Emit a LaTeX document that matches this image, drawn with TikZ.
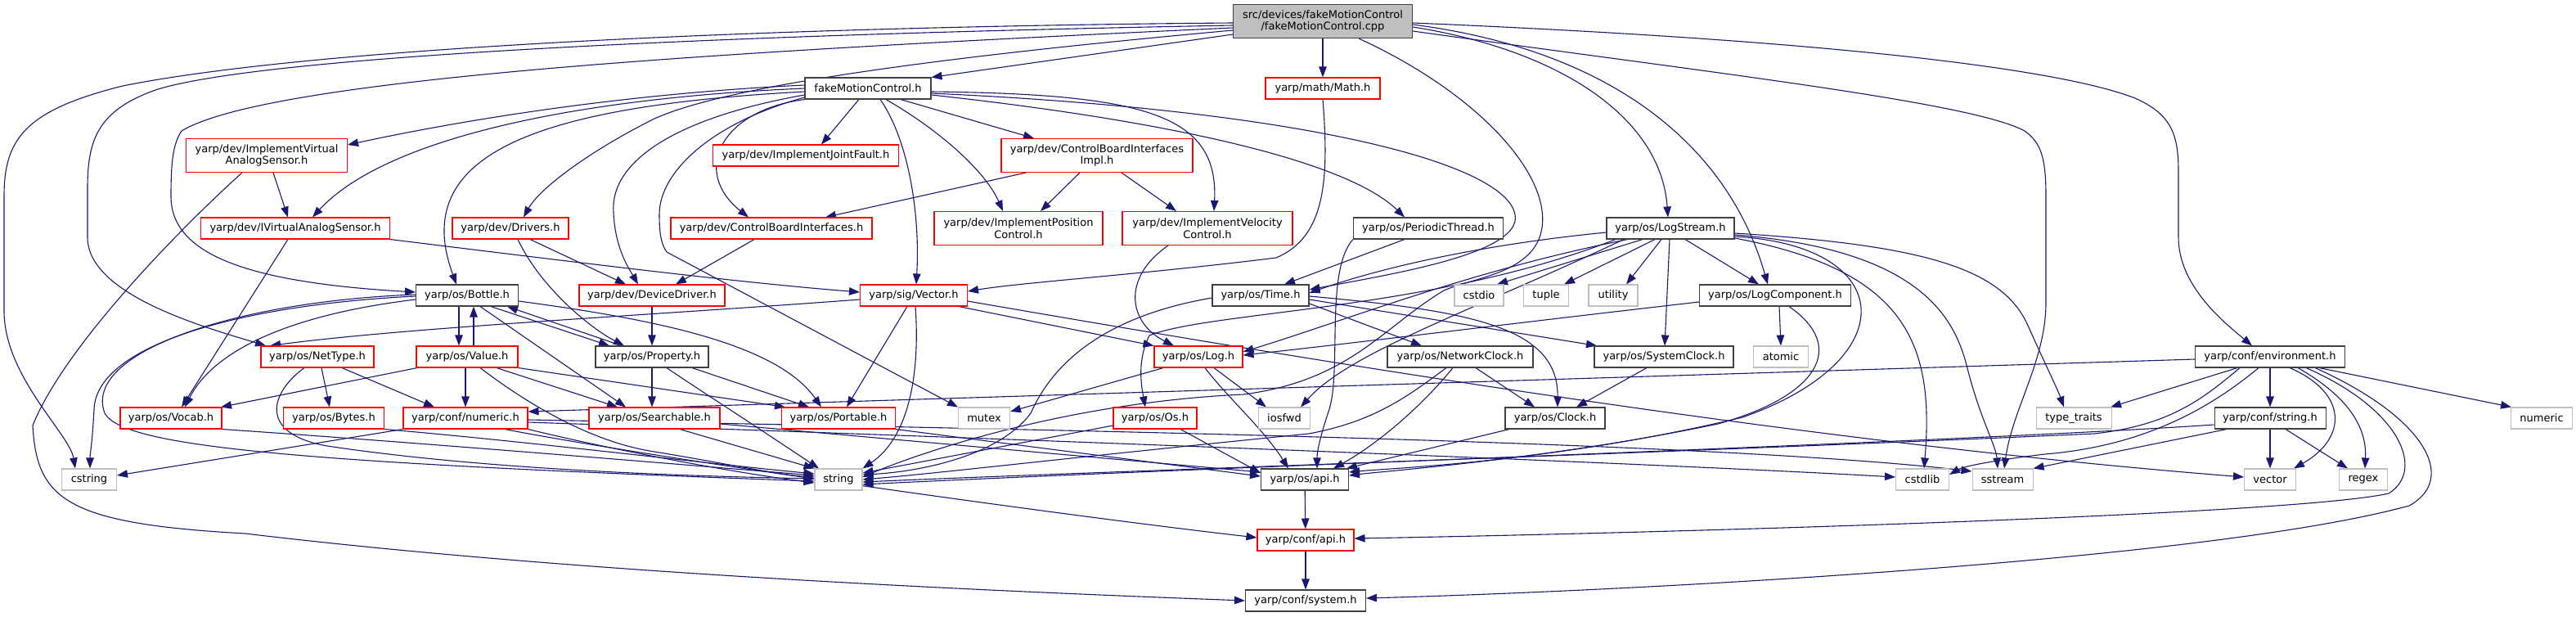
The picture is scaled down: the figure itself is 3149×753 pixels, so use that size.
\documentclass[tikz,border=0pt]{standalone}
\usepackage{fontspec}
\setmainfont{DejaVu Sans}
\usetikzlibrary{arrows.meta,backgrounds}
\definecolor{edgec}{HTML}{191970}
\definecolor{redb}{HTML}{FF0000}
\definecolor{blkb}{HTML}{404040}
\definecolor{grayb}{HTML}{BFBFBF}
\definecolor{rootf}{HTML}{BFBFBF}
\tikzset{
  box/.style={rectangle, inner sep=0pt, minimum height=26pt, align=center, font=\fontsize{13}{14.5}\selectfont, line width=1.05pt, fill=white},
  rbox/.style={box, draw=redb},
  bbox/.style={box, draw=blkb},
  gbox/.style={box, draw=grayb},
  two/.style={minimum height=41pt},
  dep/.style={color=edgec, line width=1.1pt, -{Triangle[length=13pt,width=9.5pt]}},
}
\begin{document}
\begin{tikzpicture}[x=1pt,y=-1pt]
\useasboundingbox (0,0) rectangle (3149,753);
% ---------- nodes
\node[box, draw=blkb, fill=rootf, minimum width=219pt, two] (root) at (1617,26) {src/devices/fakeMotionControl\\/fakeMotionControl.cpp};
\node[bbox, minimum width=154pt] (fmc) at (1061,108) {fakeMotionControl.h};
\node[rbox, minimum width=140pt] (math) at (1617,108) {yarp/math/Math.h};
\node[rbox, minimum width=197pt, two] (ivasi) at (326,190) {yarp/dev/ImplementVirtual\\AnalogSensor.h};
\node[rbox, minimum width=227pt] (jf) at (985,190) {yarp/dev/ImplementJointFault.h};
\node[rbox, minimum width=234pt, two] (cbii) at (1341,190) {yarp/dev/ControlBoardInterfaces\\Impl.h};
\node[rbox, minimum width=231pt] (ivas) at (361,279) {yarp/dev/IVirtualAnalogSensor.h};
\node[rbox, minimum width=142pt] (drv) at (624,279) {yarp/dev/Drivers.h};
\node[rbox, minimum width=246pt] (cbi) at (943,279) {yarp/dev/ControlBoardInterfaces.h};
\node[rbox, minimum width=206pt, two] (pos) at (1245,279) {yarp/dev/ImplementPosition\\Control.h};
\node[rbox, minimum width=208pt, two] (vel) at (1476,279) {yarp/dev/ImplementVelocity\\Control.h};
\node[bbox, minimum width=183pt] (pt) at (1746,279) {yarp/os/PeriodicThread.h};
\node[bbox, minimum width=156pt] (ls) at (2042,279) {yarp/os/LogStream.h};
\node[bbox, minimum width=125pt] (bottle) at (571,361) {yarp/os/Bottle.h};
\node[rbox, minimum width=178pt] (dd) at (797,361) {yarp/dev/DeviceDriver.h};
\node[rbox, minimum width=131pt] (vec) at (1117,361) {yarp/sig/Vector.h};
\node[bbox, minimum width=118pt] (time) at (1541,361) {yarp/os/Time.h};
\node[gbox, minimum width=60pt] (cstdio) at (1808,361) {cstdio};
\node[gbox, minimum width=55pt] (tuple) at (1890,361) {tuple};
\node[gbox, minimum width=60pt] (utility) at (1972,361) {utility};
\node[bbox, minimum width=185pt] (lc) at (2170,361) {yarp/os/LogComponent.h};
\node[rbox, minimum width=138pt] (nettype) at (388,436) {yarp/os/NetType.h};
\node[rbox, minimum width=124pt] (value) at (571,436) {yarp/os/Value.h};
\node[bbox, minimum width=138pt] (prop) at (797,436) {yarp/os/Property.h};
\node[rbox, minimum width=108pt] (log) at (1465,436) {yarp/os/Log.h};
\node[bbox, minimum width=178pt] (nc) at (1785,436) {yarp/os/NetworkClock.h};
\node[bbox, minimum width=170pt] (sc) at (2034,436) {yarp/os/SystemClock.h};
\node[gbox, minimum width=67pt] (atomic) at (2177,436) {atomic};
\node[bbox, minimum width=183pt] (env) at (2775,436) {yarp/conf/environment.h};
\node[rbox, minimum width=124pt] (vocab) at (209,511) {yarp/os/Vocab.h};
\node[rbox, minimum width=123pt] (bytes) at (408,511) {yarp/os/Bytes.h};
\node[rbox, minimum width=152pt] (cnum) at (569,511) {yarp/conf/numeric.h};
\node[rbox, minimum width=160pt] (search) at (800,511) {yarp/os/Searchable.h};
\node[rbox, minimum width=139pt] (portable) at (1025,511) {yarp/os/Portable.h};
\node[gbox, minimum width=63pt] (mutex) at (1203,511) {mutex};
\node[rbox, minimum width=102pt] (os) at (1412,511) {yarp/os/Os.h};
\node[gbox, minimum width=63pt] (iosfwd) at (1570,511) {iosfwd};
\node[bbox, minimum width=122pt] (clock) at (1901,511) {yarp/os/Clock.h};
\node[gbox, minimum width=92pt] (tt) at (2535,511) {type\_traits};
\node[bbox, minimum width=136pt] (cstr) at (2775,511) {yarp/conf/string.h};
\node[gbox, minimum width=75pt] (numeric) at (3107,511) {numeric};
\node[gbox, minimum width=67pt] (cstring) at (109,586) {cstring};
\node[gbox, minimum width=58pt] (string) at (1025,586) {string};
\node[bbox, minimum width=107pt] (api) at (1595,586) {yarp/os/api.h};
\node[gbox, minimum width=65pt] (cstdlib) at (2350,586) {cstdlib};
\node[gbox, minimum width=74pt] (sstream) at (2448,586) {sstream};
\node[gbox, minimum width=63pt] (vector) at (2775,586) {vector};
\node[gbox, minimum width=59pt] (regex) at (2889,586) {regex};
\node[rbox, minimum width=118pt] (capi) at (1596,660) {yarp/conf/api.h};
\node[bbox, minimum width=147pt] (sys) at (1596,734) {yarp/conf/system.h};
% ---------- edges
\begin{pgfonlayer}{background}
% root
\draw[dep] (root.west |- 0,28) .. controls (1000,32) and (400,55) .. (150,105) .. controls (30,135) and (5,170) .. (5,240) -- (5,380) .. controls (5,460) and (85,530) .. (cstring.north -| 92,0);
\draw[dep] (root.west |- 0,31) .. controls (900,42) and (320,68) .. (190,110) .. controls (120,135) and (107,170) .. (107,230) -- (107,290) .. controls (107,360) and (250,400) .. (nettype.north -| 325,0);
\draw[dep] (root.west |- 0,34) .. controls (900,62) and (330,95) .. (222,160) .. controls (212,175) and (209,195) .. (209,240) .. controls (209,310) and (300,345) .. (bottle.west |- 0,357);
\draw[dep] (root.west |- 0,37) .. controls (1200,65) and (900,100) .. (800,145) .. controls (720,185) and (660,230) .. (drv.north -| 640,0);
\draw[dep] (root.west |- 0,42) -- (fmc.north east);
\draw[dep] (root) -- (math);
\draw[dep] (root.east |- 0,33) .. controls (1900,60) and (2030,140) .. (ls.north -| 2039,0);
\draw[dep] (root.east |- 0,30) .. controls (1960,60) and (2110,170) .. (lc.north -| 2161,0);
\draw[dep] (root.east |- 0,28) .. controls (2250,50) and (2520,85) .. (2610,120) .. controls (2655,140) and (2663,165) .. (2663,210) -- (2663,290) .. controls (2663,350) and (2720,395) .. (env.north -| 2753,0);
\draw[dep] (root.east |- 0,38) .. controls (2100,90) and (2410,125) .. (2475,160) .. controls (2496,175) and (2501,195) .. (2501,240) -- (2501,370) .. controls (2501,440) and (2460,500) .. (sstream.north -| 2450,0);
\draw[dep] (root.south -| 1661,0) .. controls (1820,120) and (1910,230) .. (1880,295) .. controls (1860,335) and (1800,340) .. (1765,355) .. controls (1690,400) and (1650,465) .. (1520,482) .. controls (1300,492) and (1120,555) .. (string.east |- 0,583);
% fakeMotionControl.h
\draw[dep] (fmc.west |- 0,104) .. controls (750,115) and (550,150) .. (ivasi.east |- 0,177);
\draw[dep] (fmc.west |- 0,108) .. controls (700,120) and (470,170) .. (ivas.north -| 382,0);
\draw[dep] (fmc.west |- 0,112) .. controls (650,130) and (500,190) .. (bottle.north -| 558,0);
\draw[dep] (fmc.west |- 0,116) .. controls (820,145) and (745,200) .. (750,260) .. controls (752,305) and (770,330) .. (dd.north -| 780,0);
\draw[dep] (fmc.south west) .. controls (880,135) and (845,210) .. (cbi.north -| 915,0);
\draw[dep] (fmc.west |- 0,119) .. controls (870,150) and (806,210) .. (806,262) .. controls (806,285) and (808,298) .. (815,308) -- (mutex.north west);
\draw[dep] (fmc.south -| 1050,0) -- (jf.north -| 1004,0);
\draw[dep] (fmc.south -| 1101,0) -- (cbii.north -| 1264,0);
\draw[dep] (fmc.south -| 1076,0) .. controls (1110,170) and (1125,260) .. (vec.north -| 1120,0);
\draw[dep] (fmc.south -| 1083,0) .. controls (1150,160) and (1205,210) .. (pos.north -| 1226,0);
\draw[dep] (fmc.east |- 0,112) .. controls (1400,115) and (1490,140) .. (vel.north -| 1484,0);
\draw[dep] (fmc.east |- 0,116) .. controls (1450,150) and (1650,200) .. (pt.north -| 1717,0);
\draw[dep] (fmc.east |- 0,114) .. controls (1600,135) and (1840,200) .. (1852,262) .. controls (1862,310) and (1700,335) .. (time.east |- 0,354);
% math
\draw[dep] (math.south) .. controls (1625,220) and (1620,290) .. (1560,315) .. controls (1400,335) and (1250,345) .. (vec.east |- 0,356);
% ImplementVirtualAnalogSensor
\draw[dep] (ivasi.south -| 334,0) -- (ivas.north -| 352,0);
\draw[dep] (ivasi.south -| 296,0) .. controls (230,270) and (80,420) .. (40,520) .. controls (45,610) and (80,640) .. (300,652) .. controls (700,700) and (1200,722) .. (sys.west);
% IVirtualAnalogSensor
\draw[dep] (ivas.south -| 352,0) -- (vocab.north -| 222,0);
\draw[dep] (ivas.south east) .. controls (700,320) and (900,345) .. (vec.west |- 0,357);
% Drivers, CBI, CBIImpl, Velocity
\draw[dep] (drv.south -| 648,0) -- (dd.north -| 765,0);
\draw[dep] (drv.south -| 633,0) .. controls (660,350) and (720,400) .. (prop.north -| 763,0);
\draw[dep] (cbi.south -| 922,0) -- (dd.north -| 826,0);
\draw[dep] (cbii.south -| 1254,0) -- (cbi.north -| 1009,0);
\draw[dep] (cbii.south -| 1320,0) -- (pos.north -| 1272,0);
\draw[dep] (cbii.south -| 1371,0) -- (vel.north -| 1438,0);
\draw[dep] (vel.south -| 1428,0) .. controls (1370,340) and (1380,395) .. (log.north -| 1435,0);
% PeriodicThread
\draw[dep] (pt.south -| 1717,0) -- (time.north -| 1570,0);
\draw[dep] (pt.south west) .. controls (1620,330) and (1640,450) .. (1625,500) .. controls (1615,530) and (1610,550) .. (api.north -| 1610,0);
% LogStream
\draw[dep] (ls.west |- 0,284) .. controls (1800,300) and (1680,330) .. (time.east |- 0,358);
\draw[dep] (ls.south -| 1990,0) .. controls (1800,330) and (1650,390) .. (log.east |- 0,430);
\draw[dep] (ls.south -| 1975,0) .. controls (1750,380) and (1480,380) .. (1405,410) .. controls (1390,440) and (1395,470) .. (os.north -| 1400,0);
\draw[dep] (ls.south -| 1985,0) .. controls (1800,380) and (1650,430) .. (iosfwd.north -| 1590,0);
\draw[dep] (ls.south -| 2008,0) -- (cstdio.north -| 1830,0);
\draw[dep] (ls.south -| 2023,0) -- (tuple.north -| 1912,0);
\draw[dep] (ls.south -| 2031,0) -- (utility.north -| 1988,0);
\draw[dep] (ls.south -| 2041,0) -- (sc.north -| 2035,0);
\draw[dep] (ls.south -| 2060,0) -- (lc.north -| 2150,0);
\draw[dep] (ls.east |- 0,289) .. controls (2320,300) and (2330,440) .. (2130,510) .. controls (1900,565) and (1700,572) .. (api.east |- 0,577);
\draw[dep] (ls.east |- 0,291) .. controls (2330,330) and (2365,420) .. (cstdlib.north -| 2352,0);
\draw[dep] (ls.east |- 0,287) .. controls (2350,305) and (2390,390) .. (2405,450) .. controls (2420,510) and (2440,545) .. (sstream.north -| 2442,0);
\draw[dep] (ls.east |- 0,285) .. controls (2360,300) and (2450,330) .. (2480,400) .. controls (2500,445) and (2515,475) .. (tt.north -| 2523,0);
% LogComponent
\draw[dep] (lc.west |- 0,369) .. controls (1850,395) and (1650,420) .. (log.east |- 0,434);
\draw[dep] (lc.south -| 2175,0) -- (atomic.north);
\draw[dep] (lc.south -| 2187,0) .. controls (2260,425) and (2220,485) .. (2100,518) .. controls (1900,560) and (1700,575) .. (api.east |- 0,581);
% Time
\draw[dep] (time.east |- 0,371) -- (nc.north -| 1738,0);
\draw[dep] (time.east |- 0,366) -- (sc.north -| 1952,0);
\draw[dep] (time.east |- 0,362) .. controls (1800,380) and (1905,400) .. (clock.north -| 1904,0);
\draw[dep] (time.west |- 0,364) .. controls (1330,390) and (1280,460) .. (1260,505) .. controls (1215,565) and (1100,578) .. (string.east |- 0,580);
% NetworkClock, SystemClock, Clock
\draw[dep] (nc.south -| 1804,0) -- (clock.north -| 1876,0);
\draw[dep] (nc.south -| 1768,0) .. controls (1720,485) and (1680,515) .. (1600,530) .. controls (1300,560) and (1150,578) .. (string.east |- 0,586);
\draw[dep] (nc.south -| 1776,0) .. controls (1735,500) and (1680,545) .. (api.north -| 1630,0);
\draw[dep] (sc.south -| 2013,0) -- (clock.north -| 1927,0);
\draw[dep] (clock.south -| 1845,0) -- (api.north -| 1646,0);
% Log, Os
\draw[dep] (log.south -| 1422,0) -- (mutex.east |- 0,503);
\draw[dep] (log.south -| 1484,0) -- (iosfwd.north -| 1548,0);
\draw[dep] (log.south -| 1473,0) .. controls (1500,485) and (1545,525) .. (api.north -| 1575,0);
\draw[dep] (os.west |- 0,520) -- (string.east |- 0,578);
\draw[dep] (os.south -| 1443,0) -- (api.west |- 0,578);
% Vector
\draw[dep] (vec.south -| 1109,0) -- (portable.north -| 1035,0);
\draw[dep] (vec.south -| 1119,0) .. controls (1125,460) and (1110,535) .. (string.north east);
\draw[dep] (vec.south -| 1172,0) -- (log.north west);
\draw[dep] (vec.west |- 0,366) .. controls (800,385) and (500,400) .. (nettype.north -| 330,0);
\draw[dep] (vec.east |- 0,368) .. controls (1600,440) and (2200,540) .. (vector.west |- 0,583);
% Bottle
\draw[dep] (bottle.south -| 561,0) -- (value.north -| 561,0);
\draw[dep] (value.north -| 579,0) -- (bottle.south -| 579,0);
\draw[dep] (bottle.south -| 600,0) -- (prop.north -| 745,0);
\draw[dep] (prop.north -| 760,0) -- (bottle.south -| 620,0);
\draw[dep] (bottle.south -| 587,0) -- (search.north -| 765,0);
\draw[dep] (bottle.east |- 0,368) .. controls (800,390) and (950,420) .. (portable.north -| 1004,0);
\draw[dep] (bottle.west |- 0,366) .. controls (350,385) and (260,430) .. (vocab.north -| 226,0);
\draw[dep] (bottle.west |- 0,362) .. controls (300,372) and (118,420) .. (115,500) .. controls (113,540) and (110,555) .. (cstring.north -| 110,0);
\draw[dep] (bottle.west |- 0,360) .. controls (290,368) and (100,430) .. (128,505) .. controls (150,545) and (350,565) .. (string.west |- 0,588);
% Value
\draw[dep] (value.south -| 510,0) -- (vocab.north -| 270,0);
\draw[dep] (value.south -| 569,0) -- (cnum.north -| 569,0);
\draw[dep] (value.south -| 607,0) -- (search.north -| 755,0);
\draw[dep] (value.south east) -- (portable.north -| 960,0);
\draw[dep] (value.south -| 587,0) .. controls (640,490) and (720,540) .. (800,552) .. controls (880,565) and (950,580) .. (string.west |- 0,583);
% Property, DeviceDriver
\draw[dep] (prop.south -| 797,0) -- (search.north -| 797,0);
\draw[dep] (prop.south -| 846,0) -- (portable.north -| 989,0);
\draw[dep] (prop.south -| 815,0) .. controls (860,480) and (900,505) .. (string.north -| 1001,0);
\draw[dep] (dd.south) -- (prop.north);
% NetType
\draw[dep] (nettype.south -| 393,0) -- (bytes.north -| 403,0);
\draw[dep] (nettype.south -| 418,0) -- (cnum.north -| 531,0);
\draw[dep] (nettype.south -| 372,0) .. controls (330,480) and (315,530) .. (400,545) .. controls (600,575) and (850,582) .. (string.west |- 0,585);
% Vocab, Bytes, numeric
\draw[dep] (vocab.south east) .. controls (500,540) and (800,565) .. (string.west |- 0,581);
\draw[dep] (bytes.south east) .. controls (650,540) and (850,565) .. (string.west |- 0,579);
\draw[dep] (cnum.south west) -- (cstring.east |- 0,581);
\draw[dep] (cnum.south east) .. controls (750,550) and (900,578) .. (string.west |- 0,590);
\draw[dep] (cnum.south -| 617,0) .. controls (800,560) and (1300,630) .. (capi.west |- 0,657);
\draw[dep] (cnum.east |- 0,516) .. controls (1200,535) and (2000,565) .. (cstdlib.west |- 0,583);
\draw[dep] (cnum.east |- 0,513) .. controls (1300,525) and (2100,540) .. (sstream.west |- 0,576);
% Searchable, Portable
\draw[dep] (search.south -| 831,0) -- (string.north west);
\draw[dep] (search.east |- 0,518) -- (api.west |- 0,577);
\draw[dep] (portable.south east) -- (api.west |- 0,582);
% environment
\draw[dep] (env.west |- 0,439) -- (cnum.east |- 0,503);
\draw[dep] (env.south -| 2735,0) -- (tt.north -| 2580,0);
\draw[dep] (env.south) -- (cstr.north);
\draw[dep] (env.south -| 2835,0) -- (numeric.north -| 3070,0);
\draw[dep] (env.south -| 2738,0) .. controls (2690,490) and (2650,520) .. (2560,530) .. controls (2000,555) and (1300,578) .. (string.east |- 0,589);
\draw[dep] (env.south -| 2761,0) .. controls (2700,500) and (2620,545) .. (2500,555) .. controls (2440,562) and (2400,570) .. (cstdlib.east |- 0,580);
\draw[dep] (env.south -| 2799,0) .. controls (2870,480) and (2870,535) .. (vector.north -| 2804,0);
\draw[dep] (env.south -| 2809,0) .. controls (2880,490) and (2893,530) .. (regex.north -| 2891,0);
\draw[dep] (env.south -| 2819,0) .. controls (2935,500) and (2965,575) .. (2920,603) .. controls (2800,630) and (2000,652) .. (capi.east |- 0,658);
\draw[dep] (env.south -| 2830,0) .. controls (2965,510) and (3005,585) .. (2945,618) .. controls (2700,685) and (2000,722) .. (sys.east |- 0,731);
% conf/string.h
\draw[dep] (cstr.south) -- (vector.north);
\draw[dep] (cstr.south -| 2794,0) -- (regex.north -| 2870,0);
\draw[dep] (cstr.south -| 2722,0) -- (sstream.north east);
\draw[dep] (cstr.west |- 0,519) .. controls (2400,540) and (1500,570) .. (string.east |- 0,592);
% api chain
\draw[dep] (api) -- (capi);
\draw[dep] (capi) -- (sys);
\end{pgfonlayer}
\end{tikzpicture}
\end{document}
